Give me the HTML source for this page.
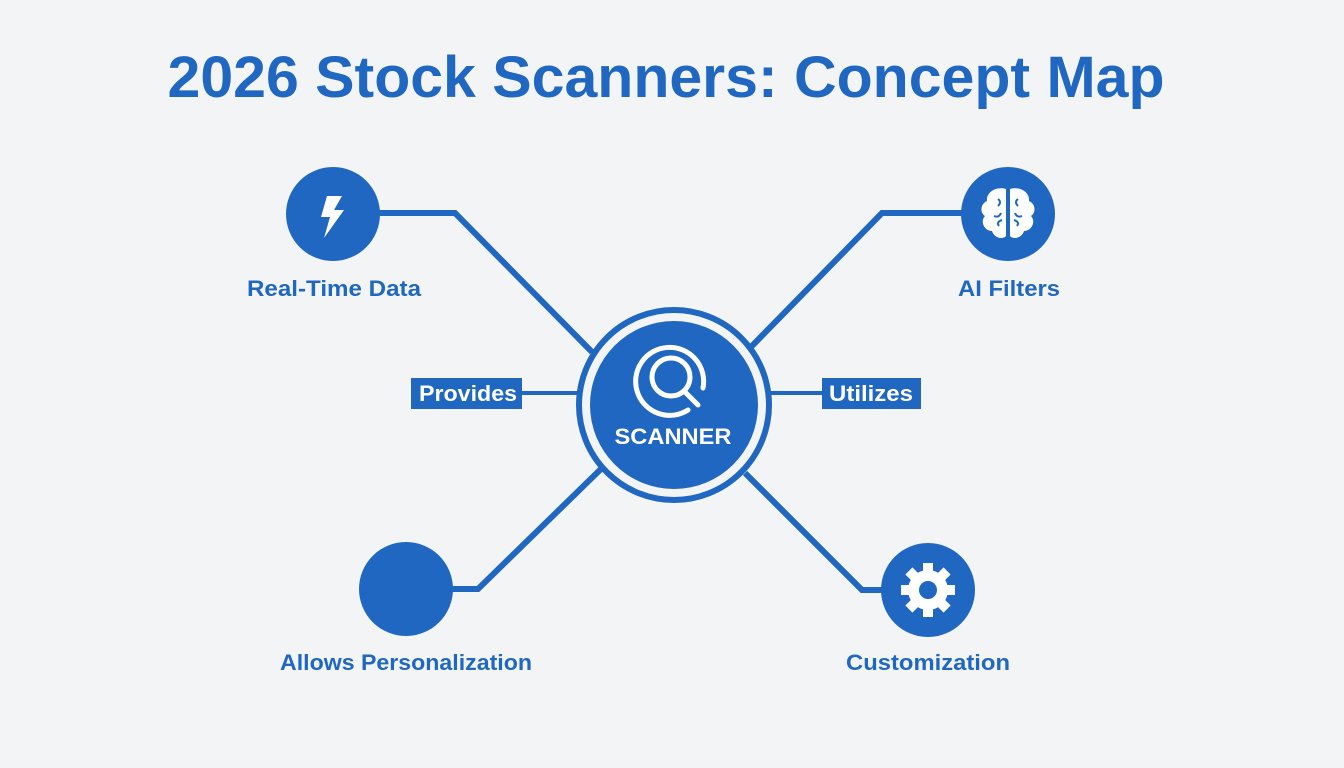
<!DOCTYPE html>
<html><head><meta charset="utf-8"><style>
html,body{margin:0;padding:0;background:#f3f4f5;}
svg{display:block;}
text{font-family:"Liberation Sans",Arial,sans-serif;font-weight:bold;}
</style></head><body>
<svg width="1344" height="768" viewBox="0 0 1344 768" xmlns="http://www.w3.org/2000/svg">
<rect width="1344" height="768" fill="#f3f4f5"/>
<text x="666" y="97" text-anchor="middle" font-size="58" fill="#1f67c0" textLength="997" lengthAdjust="spacingAndGlyphs">2026 Stock Scanners: Concept Map</text>
<g stroke="#1f67c0" stroke-width="6" fill="none" stroke-linejoin="miter">
<polyline points="378,213 455,213 592,352"/>
<polyline points="964,213 882,213 750,348"/>
<polyline points="450,589 478,589 603,467"/>
<polyline points="884,590 862,590 745,473"/>
<line x1="522" y1="393" x2="578" y2="393" stroke-width="4"/>
<line x1="770" y1="393" x2="822" y2="393" stroke-width="4"/>
<circle cx="674" cy="405" r="95" stroke-width="6" fill="#f3f4f5"/>
</g>
<circle cx="674" cy="405" r="84" fill="#1f67c0"/>
<g stroke="#fff" stroke-width="5" fill="none" stroke-linecap="round">
<path d="M703,388 A34,34 0 1 0 688,410"/>
<circle cx="671" cy="377" r="19"/>
<line x1="684" y1="391" x2="698" y2="405"/>
</g>
<text x="673" y="444" text-anchor="middle" font-size="22" fill="#fff" textLength="117" lengthAdjust="spacingAndGlyphs">SCANNER</text>
<circle cx="333" cy="214" r="47" fill="#1f67c0"/>
<path d="M327,196 L342,196 L334,210 L344,210 L324,238 L330,217 L321,217 Z" fill="#fff"/>
<circle cx="1008" cy="214" r="47" fill="#1f67c0"/>
<g fill="#fff">
<path d="M1006,189 C995,186 986,193 987,201 C980,204 980,213 985,216 C980,221 984,231 992,231 C994,238 1003,240 1006,236 Z"/>
<path d="M1010,189 C1021,186 1030,193 1029,201 C1036,204 1036,213 1031,216 C1036,221 1032,231 1024,231 C1022,238 1013,240 1010,236 Z"/>
</g>
<g stroke="#1f67c0" stroke-width="2" fill="none">
<path d="M998,199 q4,3 0,7 M994,216 q5,2 7,-3 M999,226 q-3,-4 3,-6 M1018,199 q-4,3 0,7 M1022,216 q-5,2 -7,-3 M1017,226 q3,-4 -3,-6"/>
</g>
<circle cx="406" cy="589" r="47" fill="#1f67c0"/>
<circle cx="928" cy="590" r="47" fill="#1f67c0"/>
<g transform="translate(928,590)" fill="#fff">
<circle r="20"/>
<g><rect x="-5" y="-27" width="10" height="54"/><rect x="-5" y="-27" width="10" height="54" transform="rotate(45)"/><rect x="-5" y="-27" width="10" height="54" transform="rotate(90)"/><rect x="-5" y="-27" width="10" height="54" transform="rotate(135)"/></g>
<circle r="9" fill="#1f67c0"/>
</g>
<rect x="411" y="378" width="111" height="31" fill="#1f67c0"/>
<text x="468" y="401" text-anchor="middle" font-size="22" fill="#fff" textLength="98" lengthAdjust="spacingAndGlyphs">Provides</text>
<rect x="822" y="378" width="99" height="31" fill="#1f67c0"/>
<text x="871" y="401" text-anchor="middle" font-size="22" fill="#fff" textLength="84" lengthAdjust="spacingAndGlyphs">Utilizes</text>
<g fill="#1f67c0" font-size="22">
<text x="334" y="296" text-anchor="middle" textLength="174" lengthAdjust="spacingAndGlyphs">Real-Time Data</text>
<text x="1009" y="296" text-anchor="middle" textLength="102" lengthAdjust="spacingAndGlyphs">AI Filters</text>
<text x="406" y="670" text-anchor="middle" textLength="252" lengthAdjust="spacingAndGlyphs">Allows Personalization</text>
<text x="928" y="670" text-anchor="middle" textLength="164" lengthAdjust="spacingAndGlyphs">Customization</text>
</g>
</svg>
</body></html>
